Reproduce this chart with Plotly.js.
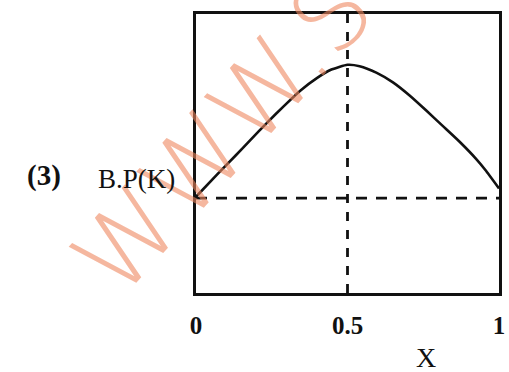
<!DOCTYPE html>
<html>
<head>
<meta charset="utf-8">
<script src="https://cdn.plot.ly/plotly-3.0.1.min.js"></script>
<style>
  body { margin: 0; background: #fff; }
  #chart { width: 509px; height: 372px; }
</style>
</head>
<body>
<div id="chart"></div>
<script>
// boiling point curve (relative units)
var molFraction = [0, 0.07, 0.13, 0.18, 0.235, 0.29, 0.345, 0.40, 0.445, 0.5, 0.54, 0.595, 0.65, 0.705, 0.76, 0.815, 0.87, 0.925, 0.955, 1.0];
var boilingPoint = [0.345, 0.425, 0.492, 0.549, 0.611, 0.670, 0.726, 0.771, 0.800, 0.818, 0.813, 0.790, 0.755, 0.708, 0.654, 0.598, 0.542, 0.480, 0.441, 0.375];

var guideX = [0.5, 0.5];
var guideXy = [0, 1];
var guideY = [0.34, 0.34];
var guideYx = [0, 1];

var tickVals = [0, 0.5, 1];
var tickText = ['0', '0.5', '1'];

var serif = 'Liberation Serif, DejaVu Serif, serif';

var curve = {
  x: molFraction,
  y: boilingPoint,
  mode: 'lines',
  type: 'scatter',
  line: {color: '#111', width: 2.6, shape: 'spline', smoothing: 0.5},
  hoverinfo: 'skip'
};

var vGuide = {
  x: guideX,
  y: guideXy,
  mode: 'lines',
  type: 'scatter',
  line: {color: '#111', width: 2.8, dash: '9px,9px'},
  hoverinfo: 'skip'
};

var hGuide = {
  x: guideYx,
  y: guideY,
  mode: 'lines',
  type: 'scatter',
  line: {color: '#111', width: 2.8, dash: '11px,9px'},
  hoverinfo: 'skip'
};

var layout = {
  width: 509,
  height: 372,
  margin: {l: 196, r: 10, t: 14, b: 79},
  paper_bgcolor: '#fff',
  plot_bgcolor: 'rgba(0,0,0,0)',
  showlegend: false,
  xaxis: {
    range: [0, 1],
    showgrid: false,
    zeroline: false,
    showline: true,
    mirror: true,
    linecolor: '#111',
    linewidth: 3,
    tickvals: tickVals,
    ticktext: tickText,
    ticks: '',
    ticklabelstandoff: 8,
    tickfont: {family: serif, size: 25, color: '#111', weight: 'bold'}
  },
  yaxis: {
    range: [0, 1],
    showgrid: false,
    zeroline: false,
    showline: true,
    mirror: true,
    linecolor: '#111',
    linewidth: 3,
    showticklabels: false,
    ticks: ''
  },
  annotations: [
    {text: 'WWW.S', xref: 'paper', yref: 'paper', x: 0.09, y: 0.57,
     xanchor: 'center', yanchor: 'middle',
     showarrow: false, textangle: -48,
     font: {family: 'DejaVu Sans, sans-serif', size: 102, color: 'rgba(238,135,95,0.6)', weight: 200}},
    {text: '(3)', xref: 'paper', yref: 'paper', x: -0.502, y: 0.42,
     xanchor: 'center', yanchor: 'middle',
     showarrow: false, font: {family: serif, size: 29, color: '#111', weight: 'bold'}},
    {text: 'B.P(K)', xref: 'paper', yref: 'paper', x: -0.195, y: 0.41,
     xanchor: 'center', yanchor: 'middle',
     showarrow: false, font: {family: serif, size: 27, color: '#111'}},
    {text: 'X', xref: 'paper', yref: 'paper', x: 0.76, y: -0.23,
     xanchor: 'center', yanchor: 'middle',
     showarrow: false, font: {family: serif, size: 28, color: '#111'}}
  ]
};

Plotly.newPlot('chart', [curve, vGuide, hGuide], layout, {displayModeBar: false, staticPlot: true});
</script>
</body>
</html>
